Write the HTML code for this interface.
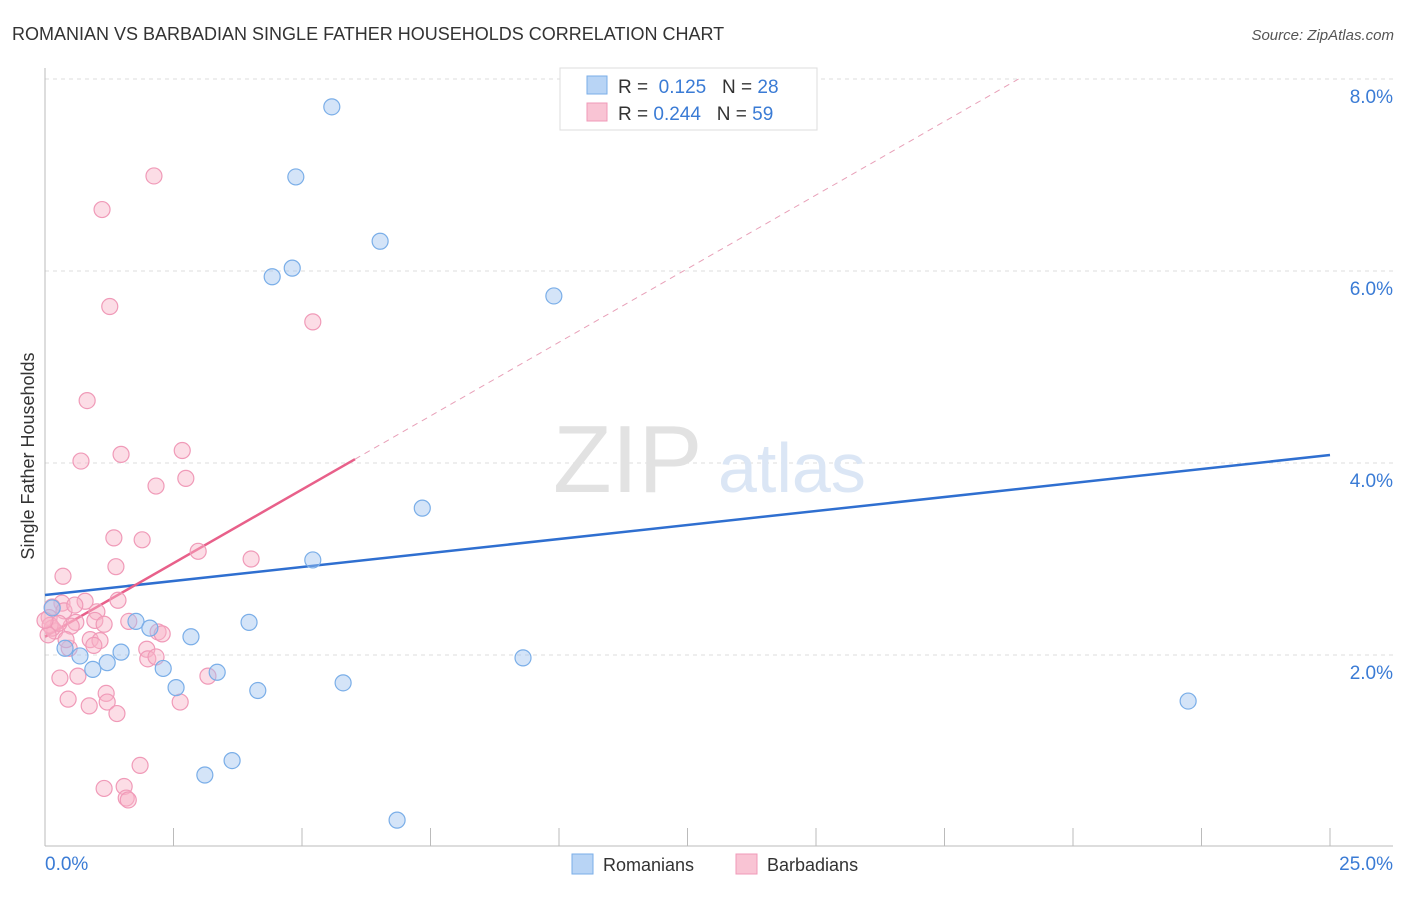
<!DOCTYPE html>
<html><head><meta charset="utf-8"><style>
body{margin:0;background:#fff;font-family:"Liberation Sans",sans-serif;}
svg text{font-family:"Liberation Sans",sans-serif;}
</style></head><body>
<svg id="chart" width="1406" height="892" xmlns="http://www.w3.org/2000/svg">
<text x="12" y="40" font-size="18" fill="#333">ROMANIAN VS BARBADIAN SINGLE FATHER HOUSEHOLDS CORRELATION CHART</text>
<text x="1394" y="40" font-size="15" fill="#555" text-anchor="end" font-style="italic">Source: ZipAtlas.com</text>
<g id="grid"></g>
<text x="553" y="492" font-size="96" fill="#e2e2e2" font-family="Liberation Serif">ZIP</text>
<text x="718" y="492" font-size="70" fill="#dbe6f5">atlas</text>
<g id="lines"></g>
<g id="pts"></g>
<text transform="translate(34,456) rotate(-90)" font-size="18" fill="#333" text-anchor="middle">Single Father Households</text>
<g>
<rect x="560" y="68" width="257" height="62" fill="#fff" stroke="#ddd"/>
<rect x="587" y="76" width="20" height="18" fill="#b8d4f5" stroke="#7aaee8"/>
<rect x="587" y="103" width="20" height="18" fill="#f9c4d4" stroke="#f09ab8"/>
<text x="618" y="93" font-size="19" fill="#333">R = <tspan fill="#3a7bd5">&#160;0.125</tspan>&#160;&#160;&#160;N = <tspan fill="#3a7bd5">28</tspan></text>
<text x="618" y="120" font-size="19" fill="#333">R = <tspan fill="#3a7bd5">0.244</tspan>&#160;&#160;&#160;N = <tspan fill="#3a7bd5">59</tspan></text>
</g>
<g>
<rect x="572" y="854" width="21" height="20" fill="#b8d4f5" stroke="#7aaee8"/>
<text x="603" y="871" font-size="18" fill="#333">Romanians</text>
<rect x="736" y="854" width="21" height="20" fill="#f9c4d4" stroke="#f09ab8"/>
<text x="767" y="871" font-size="18" fill="#333">Barbadians</text>
</g>
</svg>
<script>
const blueX=[5.58,4.88,6.52,4.42,4.81,9.90,7.34,5.21,1.77,2.04,2.84,3.97,1.48,0.39,0.68,1.21,0.93,2.30,3.35,2.55,4.14,5.80,9.30,22.24,3.64,3.11,6.85,0.14];
const blueY=[7.71,6.98,6.31,5.94,6.03,5.74,3.53,2.99,2.35,2.28,2.19,2.34,2.03,2.07,1.99,1.92,1.85,1.86,1.82,1.66,1.63,1.71,1.97,1.52,0.90,0.75,0.28,2.49];
const pinkX=[2.12,1.11,1.26,5.21,0.82,2.67,0.70,1.48,2.74,2.16,1.34,1.89,2.98,4.01,1.38,0.35,1.42,0.78,0.33,0.14,1.01,0.37,0.08,0.97,0.60,1.63,1.15,0.51,0.19,2.20,2.28,0.14,0.88,1.07,0.95,1.98,2.00,2.16,0.47,0.64,0.29,3.17,1.19,0.45,1.21,2.63,0.86,1.40,1.85,1.15,1.54,1.58,1.62,0.10,0.06,0.27,0.58,0.41,0.00];
const pinkY=[6.99,6.64,5.63,5.47,4.65,4.13,4.02,4.09,3.84,3.76,3.22,3.20,3.08,3.00,2.92,2.82,2.57,2.56,2.54,2.50,2.45,2.46,2.39,2.36,2.34,2.35,2.32,2.30,2.25,2.24,2.22,2.28,2.16,2.15,2.10,2.06,1.96,1.98,2.07,1.78,1.76,1.78,1.60,1.54,1.51,1.51,1.47,1.39,0.85,0.61,0.63,0.51,0.49,2.31,2.21,2.33,2.52,2.16,2.36];
const blueTrend=[2.625,4.083];
const pinkTrend=[2.19,4.04];
const yTicks=[2,4,6,8];
const yTickLabels=["2.0%","4.0%","6.0%","8.0%"];
const xMin=0,xMax=25;
const NS="http://www.w3.org/2000/svg";
const X=v=>45+(v-xMin)/(xMax-xMin)*1285;
const Y=v=>847-v*96;
function mk(t,a,p){const e=document.createElementNS(NS,t);for(const k in a)e.setAttribute(k,a[k]);p.appendChild(e);return e;}
const grid=document.getElementById('grid');
yTicks.forEach((v,i)=>{
 const l=mk('line',{x1:45,x2:1393,y1:Y(v),y2:Y(v),stroke:'#ddd','stroke-dasharray':'4,4'},grid);
 
 
 const t=mk('text',{x:1393,y:Y(v)+24,'font-size':19,fill:'#3a7bd5','text-anchor':'end'},grid);
 t.textContent=yTickLabels[i];
 
 
});
mk('line',{x1:45,x2:45,y1:68,y2:846,stroke:'#bbb'},grid);
mk('line',{x1:45,x2:1393,y1:846,y2:846,stroke:'#bbb'},grid);
for(let i=0;i<=10;i++){const x=X(i*2.5);const tk=mk('line',{x1:x,x2:x,y1:828,y2:846,stroke:'#bbb'},grid);
 
 }
let t0=mk('text',{x:45,y:870,'font-size':19,fill:'#3a7bd5'},grid);t0.textContent="0.0%";


let t1=mk('text',{x:1393,y:870,'font-size':19,fill:'#3a7bd5','text-anchor':'end'},grid);t1.textContent="25.0%";


const pts=document.getElementById('pts');
pinkX.forEach((v,i)=>{const c=mk('circle',{cx:X(v),cy:Y(pinkY[i]),r:8,fill:'rgba(248,180,200,0.45)',stroke:'#f09ab8','stroke-width':1.2},pts);
 
 });
blueX.forEach((v,i)=>{const c=mk('circle',{cx:X(v),cy:Y(blueY[i]),r:8,fill:'rgba(160,196,240,0.45)',stroke:'#7aaee8','stroke-width':1.2},pts);
 
 });
const lines=document.getElementById('lines');
const bl=mk('line',{x1:X(0),y1:Y(blueTrend[0]),x2:X(25),y2:Y(blueTrend[1]),stroke:'#2f6fd0','stroke-width':2.5},lines);


const xs=(355-45)/1285*25;const slope=(pinkTrend[1]-pinkTrend[0])/xs;
const xe=(8.0-pinkTrend[0])/slope;
const pd=mk('line',{x1:X(xs),y1:Y(pinkTrend[1]),x2:X(xe),y2:Y(8.0),stroke:'#e8a0b8','stroke-width':1,'stroke-dasharray':'6,5'},lines);


const pl=mk('line',{x1:X(0),y1:Y(pinkTrend[0]),x2:X(xs),y2:Y(pinkTrend[1]),stroke:'#e8608a','stroke-width':2.5},lines);


</script>
</body></html>
